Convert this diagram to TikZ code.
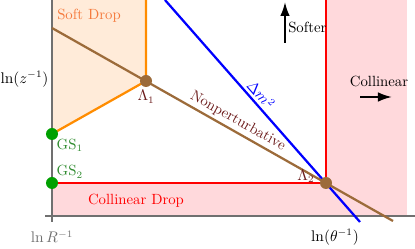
\documentclass[tikz,border=0pt]{standalone}
\usepackage{xcolor}
\usepackage{tikz}
\usetikzlibrary{arrows.meta,positioning}
\definecolor{softorange}{HTML}{FF8C00}
\definecolor{softtext}{HTML}{F5793B}
\definecolor{peach}{HTML}{FFEBD9}
\definecolor{pinkfill}{HTML}{FFD9DC}
\definecolor{npbrown}{HTML}{9C6B3A}
\definecolor{npred}{HTML}{6B1A1A}
\definecolor{gsgreen}{HTML}{00A000}
\definecolor{gstext}{HTML}{2E8B2E}
\definecolor{axisgray}{HTML}{707070}
\tikzset{
    axisline/.style={draw=axisgray, line width=1.6pt},
    boundary/.style={line width=1.6pt},
    ptdot/.style={circle, minimum size=0.3cm, inner sep=0pt},
    gslabel/.style={text=gstext, inner sep=0pt},
    hint/.style={-{Latex[length=3.5mm, width=2.4mm]}, line width=1.4pt},
}

\begin{document}
\begin{tikzpicture}[x=0.025cm, y=0.025cm, font=\fontsize{10.5}{12}\selectfont]
    \useasboundingbox (0,0) rectangle (415,249);
    % key points
    \coordinate (ytop) at (52,249);
    \coordinate (ybot) at (52,27);
    \coordinate (xleft) at (45,33);
    \coordinate (xright) at (415,33);
    \coordinate (gsone) at (52,115);
    \coordinate (gstwo) at (52,66);
    \coordinate (lamone) at (146,168);
    \coordinate (lamtwo) at (326,66);
    \coordinate (sdtop) at (146,249);
    \coordinate (cdtop) at (326,249);
    \coordinate (npstart) at (52,221);
    \coordinate (npend) at (393,28);
    \coordinate (mstart) at (165,249);
    \coordinate (mend) at (360,27);

    % regions
    \fill[peach] (ytop) -- (sdtop) -- (lamone) -- (gsone) -- cycle;
    \fill[pinkfill] (52,33) rectangle (lamtwo);
    \fill[pinkfill] (326,33) rectangle (407,249);

    % axes
    \draw[axisline] (xleft) -- (xright);
    \draw[axisline] (ybot) -- (ytop);

    % boundaries
    \draw[boundary, softorange] (sdtop) -- (lamone) -- (gsone);
    \draw[boundary, red] (gstwo) -- (lamtwo) -- (cdtop);
    \draw[boundary, blue] (mstart) -- node[sloped, above, pos=0.455, inner sep=2pt] (dm) {$\Delta m^2$} (mend);
    \draw[boundary, npbrown] (npstart) -- node[sloped, above, pos=0.53, inner sep=2pt, text=npred] (np) {Nonperturbative} (npend);

    % points
    \node[ptdot, fill=npbrown] (L1) at (lamone) {};
    \node[ptdot, fill=npbrown] (L2) at (lamtwo) {};
    \node[ptdot, fill=gsgreen] (G1) at (gsone) {};
    \node[ptdot, fill=gsgreen] (G2) at (gstwo) {};

    \node[text=npred, below=0pt of L1, inner sep=2pt] (L1lbl) {$\Lambda_1$};
    \node[text=npred, left=1.25mm of L2, yshift=1.75mm, inner sep=0pt] (L2lbl) {$\Lambda_2$};
    \node[gslabel, below right=0pt of G1] (G1lbl) {GS$_1$};
    \node[gslabel, above right=0pt of G2] (G2lbl) {GS$_2$};

    % region and axis labels
    \node[text=softtext, anchor=west, inner sep=0pt] (sdlbl) at (57,233) {Soft Drop};
    \node[text=red] (cdlbl) at (136,48) {Collinear Drop};
    \node[anchor=east, inner sep=1pt] (zlbl) at (50,170) {$\ln(z^{-1})$};
    \node (thlbl) at (335,12) {$\ln(\theta^{-1})$};
    \node[text=axisgray] (rlbl) at (52,12) {$\ln R^{-1}$};

    % directions
    \node[anchor=west, inner sep=0pt] (softer) at (288,222) {Softer};
    \coordinate (sftail) at (285,206);
    \coordinate (sftip) at (285,247);
    \draw[hint] (sftail) -- (sftip);
    \node (coll) at (379,168) {Collinear};
    \coordinate (coltail) at (360,152);
    \coordinate (coltip) at (392,152);
    \draw[hint] (coltail) -- (coltip);
\end{tikzpicture}
\end{document}
